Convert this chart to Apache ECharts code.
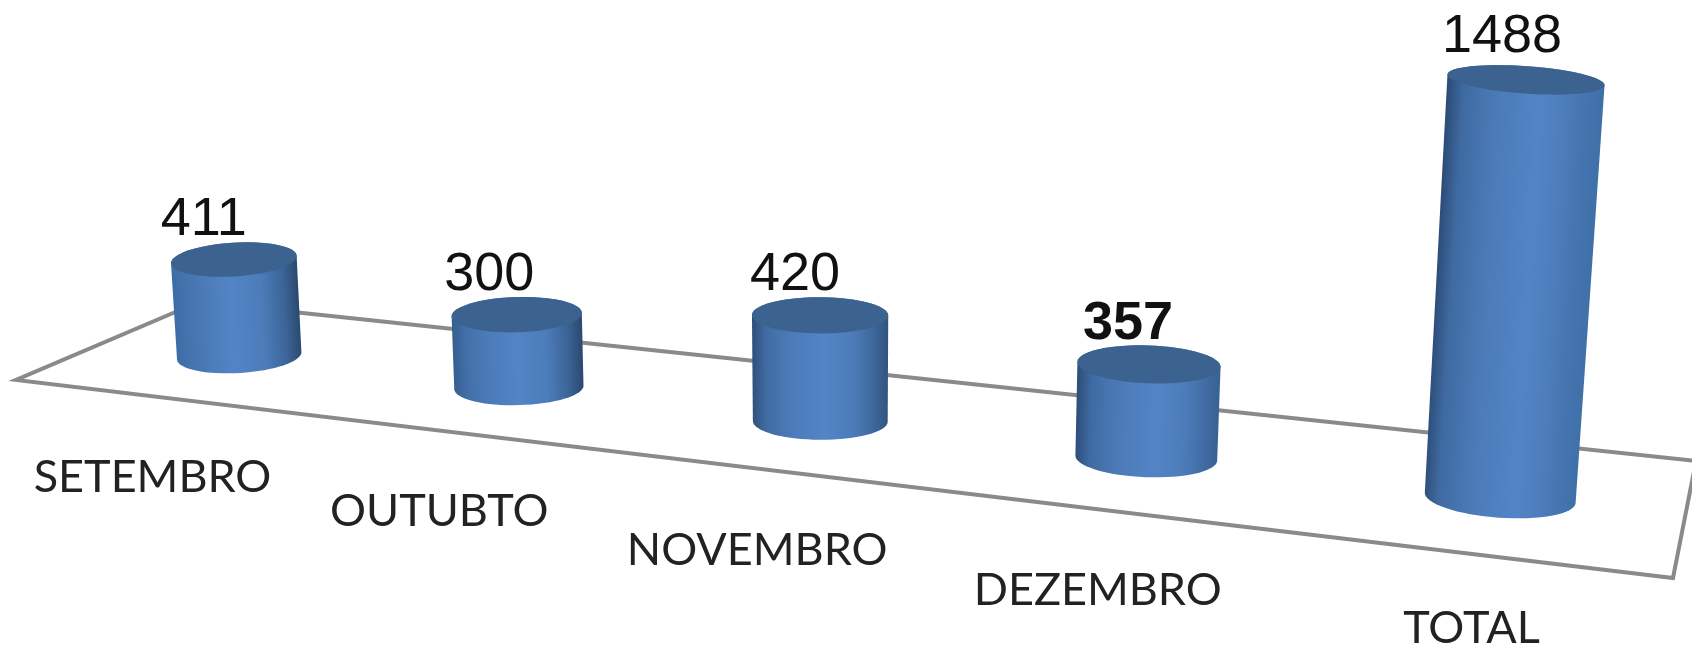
<!DOCTYPE html>
<html>
<head>
<meta charset="utf-8">
<script src="https://cdn.jsdelivr.net/npm/echarts@6/dist/echarts.min.js"></script>
<style>
html,body{margin:0;padding:0;background:#fff;}
#chart{width:1692px;height:647px;filter:blur(0.5px);}
</style>
</head>
<body>
<div id="chart"></div>
<script>
const categories = ['SETEMBRO', 'OUTUBTO', 'NOVEMBRO', 'DEZEMBRO', 'TOTAL'];
const values = [411, 300, 420, 357, 1488];
const boldValues = [357];
const axisMax = 1600;

const chart = echarts.init(document.getElementById('chart'), null, {renderer: 'canvas'});

// Floor plane of the 3D chart: projective map from (u, depth) to the screen.
const floorCorners = [[199, 302], [1696, 461], [1673, 578], [16, 380]];
const valueLabelShift = [-30, -27.5, -25, -21, -24];
const nameShiftX = [-0.7, -9, -7.5, -7.5, -1.3];
const nameShiftY = [-3, -3, 0, 1, -4];
const proj = (function () {
  const [p0, p1, p2, p3] = floorCorners;
  const dx1 = p1[0] - p2[0], dx2 = p3[0] - p2[0], sx = p0[0] - p1[0] + p2[0] - p3[0];
  const dy1 = p1[1] - p2[1], dy2 = p3[1] - p2[1], sy = p0[1] - p1[1] + p2[1] - p3[1];
  const den = dx1 * dy2 - dx2 * dy1;
  const g = (sx * dy2 - dx2 * sy) / den, h = (dx1 * sy - sx * dy1) / den;
  const a = p1[0] - p0[0] + g * p1[0], b = p3[0] - p0[0] + h * p3[0], c = p0[0];
  const d = p1[1] - p0[1] + g * p1[1], e = p3[1] - p0[1] + h * p3[1], f = p0[1];
  return function (u, w) {
    const q = g * u + h * w + 1;
    return {x: (a * u + b * w + c) / q, y: (d * u + e * w + f) / q, q: q};
  };
})();

const BASE_DEPTH = 0.53;
const HEIGHT_GAIN = 0.216 * axisMax / 647;
const lerpColor = (t, a, b) => echarts.color.lerp(Math.max(0, Math.min(1, t)), [a, b]);

function ellipsePts(c, rx, ry, ang, from, to, n) {
  const pts = [], ca = Math.cos(ang), sa = Math.sin(ang);
  for (let k = 0; k <= n; k++) {
    const t = from + (to - from) * k / n;
    const ex = rx * Math.cos(t), ey = ry * Math.sin(t);
    pts.push([c[0] + ex * ca - ey * sa, c[1] + ex * sa + ey * ca]);
  }
  return pts;
}

function renderFloor(params, api) {
  const pts = [[0, 0], [1, 0], [1, 1], [0, 1]].map(p => {
    const r = proj(p[0], p[1]);
    return [r.x, r.y];
  });
  return {
    type: 'polygon',
    shape: {points: pts},
    style: {fill: 'none', stroke: '#8a8a8a', lineWidth: 4, lineJoin: 'miter'}
  };
}

function renderCylinder(params, api) {
  const i = api.value(0), v = api.value(1);
  const cs = params.coordSys;
  const p0 = api.coord([i, 0]), p1 = api.coord([i, v]);
  const u = (p0[0] - cs.x) / cs.width;
  const t = (u - 0.1) / 0.8;
  const base = proj(u, BASE_DEPTH);
  const plain = (p0[1] - p1[1]) * HEIGHT_GAIN / base.q;
  const h = plain / (1 - 0.00009 * plain);
  const lean = (base.x - 838) * 0.0000936;
  const cx = base.x + 3 * t * t * t;
  const top = [cx + h * lean, base.y - 0.5 - h];
  const bot = [cx, base.y - 0.5];
  const rxB = (58 / base.q) * (1 + 0.04 * t * t * t), ryB = 16 / base.q;
  const rxT = rxB * (1 + 0.00010 * h), ryT = ryB * (1 - 0.0000018 * h * h);
  const ang = (-3.5 + 7.5 * t) * Math.PI / 180;

  const body = ellipsePts(top, rxT, ryT, ang, Math.PI, 2 * Math.PI, 24)
    .concat(ellipsePts(bot, rxB, ryB, ang, 0, Math.PI, 32));
  const capPts = ellipsePts(top, rxT, ryT, ang, 0, 2 * Math.PI, 64);

  const mid = [(top[0] + bot[0]) / 2, (top[1] + bot[1]) / 2];
  const len = Math.hypot(top[0] - bot[0], top[1] - bot[1]);
  const ax = [(top[0] - bot[0]) / len, (top[1] - bot[1]) / len];
  const perp = [-ax[1], ax[0]];
  const sgn = perp[0] < 0 ? -1 : 1;
  const R = (rxB + rxT) / 2;
  const s = [mid[0] - sgn * perp[0] * R, mid[1] - sgn * perp[1] * R];
  const e = [mid[0] + sgn * perp[0] * R, mid[1] + sgn * perp[1] * R];

  const leftCol = lerpColor(t / 0.55, '#3c6ca6', '#2d4d78');
  const rightCol = lerpColor((t - 0.3) / 0.7, '#2b496e', '#4070a8');
  const peak = 0.46 + 0.14 * t;
  const fill = new echarts.graphic.LinearGradient(s[0], s[1], e[0], e[1], [
    {offset: 0, color: leftCol},
    {offset: 0.1, color: lerpColor(0.7, leftCol, '#4776b2')},
    {offset: peak * 0.5, color: '#4a7ab6'},
    {offset: peak, color: '#5384c6'},
    {offset: peak + (1 - peak) * 0.45, color: '#4c7cb9'},
    {offset: 0.88, color: lerpColor(0.6, rightCol, '#4878b4')},
    {offset: 1, color: rightCol}
  ], true);

  const isBold = boldValues.indexOf(v) >= 0;
  const nameX = base.x - 86 + 77 * (u - 0.1) + nameShiftX[i];
  const nameY = base.y + 123 + 12 * u + nameShiftY[i];

  return {
    type: 'group',
    children: [
      {type: 'polygon', shape: {points: body}, style: {fill: fill}},
      {type: 'polygon', shape: {points: capPts}, style: {fill: '#3c6390'}},
      {
        type: 'text',
        style: {
          text: String(v), x: top[0] + valueLabelShift[i], y: top[1] - 39 - h * 0.01,
          align: 'center', verticalAlign: 'middle',
          font: (isBold ? 'bold ' : '') + '54px "Liberation Sans", Arial, sans-serif',
          fill: '#111111'
        }
      },
      {
        type: 'text',
        style: {
          text: categories[i], x: nameX, y: nameY,
          align: 'center', verticalAlign: 'middle',
          font: '45px Lato, "Open Sans", sans-serif',
          fill: '#222222'
        }
      }
    ]
  };
}

chart.setOption({
  animation: false,
  backgroundColor: '#ffffff',
  grid: {left: 0, right: 0, top: 0, bottom: 0},
  xAxis: {type: 'category', data: categories, show: false},
  yAxis: {type: 'value', min: 0, max: axisMax, show: false},
  series: [
    {type: 'custom', data: [[0, 0]], renderItem: renderFloor, clip: false, silent: true, z: 1},
    {
      type: 'custom',
      data: values.map((v, i) => [i, v]),
      encode: {x: 0, y: 1},
      renderItem: renderCylinder,
      clip: false,
      z: 2
    }
  ]
});
</script>
</body>
</html>
